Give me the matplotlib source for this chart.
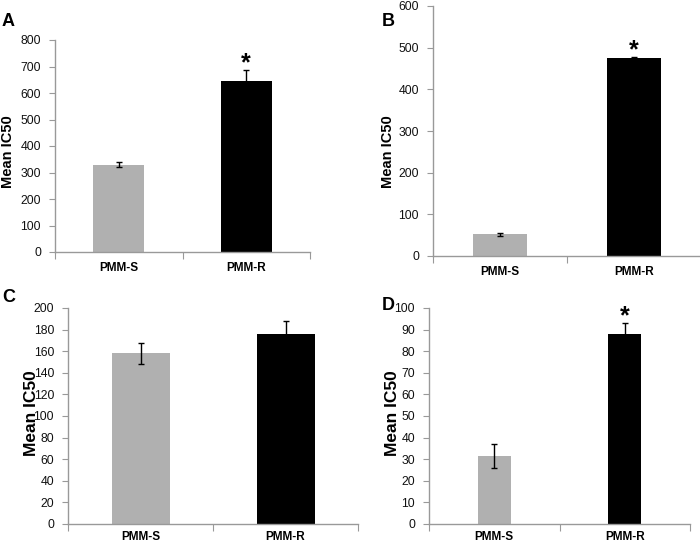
import matplotlib.pyplot as plt

plt.rcParams["font.family"] = ["Liberation Sans", "DejaVu Sans"]

groups = ["PMM-S", "PMM-R"]
bar_colors = ["#b0b0b0", "#000000"]

means_a = [330, 645]
err_a = [10, 40]
means_b = [52, 475]
err_b = [4, 3]
means_c = [158, 176]
err_c = [9.5, 12]
means_d = [31.5, 88]
err_d = [5.5, 5]

W, H = 700, 544
fig = plt.figure(figsize=(7, 5.44), dpi=100)


def panel(px_left, px_right, px_zero, px_top, ymax, step, means, errs,
          star, letter, letter_xy, label_xy, bar_w=0.4, label_size=10.5,
          pad=7):
    ax = fig.add_axes([px_left / W, (H - px_zero) / H,
                       (px_right - px_left) / W, (px_zero - px_top) / H])
    x = [0.5, 1.5]
    ax.bar(x, means, width=bar_w, color=bar_colors, zorder=2)
    ax.errorbar(x, means, yerr=errs, fmt="none", ecolor="black",
                elinewidth=1.0, capsize=2.5, capthick=1.0, zorder=3)
    if star:
        top = means[1] + errs[1]
        ax.annotate("*", (1.5, top), xytext=(0, 0), textcoords="offset points",
                    ha="center", va="baseline", fontsize=18,
                    fontweight="bold", annotation_clip=False)
    ax.set_xlim(0, 2)
    ax.set_ylim(0, ymax)
    ax.set_yticks(range(0, ymax + 1, step))
    ax.set_xticks([0, 1, 2])
    ax.set_xticklabels([])
    ax.set_xticks(x, minor=True)
    ax.set_xticklabels(groups, minor=True, fontsize=8.5, fontweight="bold")
    ax.tick_params(axis="x", which="minor", length=0, pad=pad)
    ax.tick_params(axis="x", which="major", length=5, color="#999999",
                   direction="out")
    ax.tick_params(axis="y", length=4, color="#999999", labelsize=8.8,
                   labelcolor="#111111", pad=6)
    for s in ["top", "right"]:
        ax.spines[s].set_visible(False)
    for s in ["left", "bottom"]:
        ax.spines[s].set_color("#999999")
        ax.spines[s].set_linewidth(1.0)
    fig.text(label_xy[0] / W, 1 - label_xy[1] / H, "Mean IC50",
             fontsize=label_size, fontweight="bold", rotation=90,
             ha="center", va="center")
    fig.text(letter_xy[0] / W, 1 - letter_xy[1] / H, letter, fontsize=13,
             fontweight="bold", ha="left", va="center")
    return ax


panel(55, 310, 252, 40, 800, 100, means_a, err_a, True, "A", (2, 21), (8, 152))
panel(433, 701, 256, 6, 600, 100, means_b, err_b, True, "B", (382, 21),
      (388, 152))
panel(68, 358, 524, 308, 200, 20, means_c, err_c, False, "C", (2, 298),
      (32, 413), label_size=12.5, pad=5)
panel(429, 690, 524, 308, 100, 10, means_d, err_d, True, "D", (382, 306),
      (392, 413), bar_w=0.25, label_size=12.5, pad=5)

fig.savefig("out.png", dpi=100)
